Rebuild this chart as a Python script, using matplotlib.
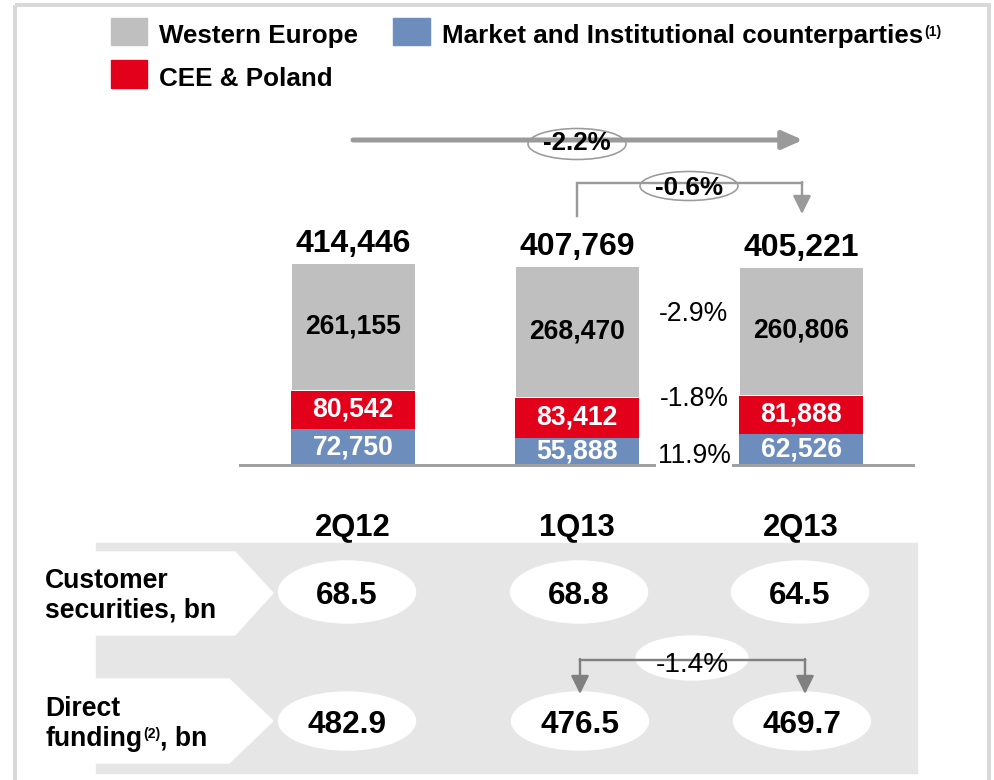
import matplotlib.pyplot as plt
from matplotlib.patches import Rectangle, Ellipse, Polygon
import numpy as np

plt.rcParams['font.family'] = ['Liberation Sans', 'DejaVu Sans']

# data
categories = ['2Q12', '1Q13', '2Q13']
western_europe = [261155, 268470, 260806]
cee_poland = [80542, 83412, 81888]
market_inst = [72750, 55888, 62526]
totals = [414446, 407769, 405221]
segment_change = ['-2.9%', '-1.8%', '11.9%']  # 2Q13 vs 1Q13: WE, CEE, M&I
total_change_yoy = '-2.2%'
total_change_qoq = '-0.6%'
customer_securities = [68.5, 68.8, 64.5]
direct_funding = [482.9, 476.5, 469.7]
funding_change_qoq = '-1.4%'

GREY = '#BFBFBF'
RED = '#E2001A'
BLUE = '#6D8EBC'
LINE = '#9A9A9A'
PANEL = '#E6E6E6'
BORDER = '#D9D9D9'

W, H = 994, 780
fig = plt.figure(figsize=(W / 100, H / 100), dpi=100)


def pt(v):
    # pixels -> points at dpi 100
    return v * 0.72


# ---- stacked bars (baseline at 465px, 500k over 244px)
ax = fig.add_axes([240 / W, (H - 465) / H, 673 / W, 244 / H])
x = np.arange(len(categories))
bw = 0.554
bottom2 = np.array(market_inst)
bottom3 = bottom2 + np.array(cee_poland)
ax.bar(x, market_inst, bw, color=BLUE, linewidth=0)
ax.bar(x, cee_poland, bw, bottom=bottom2, color=RED, linewidth=0)
ax.bar(x, western_europe, bw, bottom=bottom3, color=GREY,
       edgecolor='white', linewidth=pt(1))
ax.set_xlim(-0.5045, 2.5)
ax.set_ylim(0, 500000)
ax.set_xticks([])
ax.set_yticks([])
for s in ['top', 'left', 'right']:
    ax.spines[s].set_visible(False)
ax.spines['bottom'].set_color('#A0A0A0')
ax.spines['bottom'].set_linewidth(pt(3))
ax.patch.set_visible(False)

for i in range(len(categories)):
    ax.text(i, market_inst[i] / 2, f'{market_inst[i]:,}', ha='center',
            va='center', color='white', fontweight='bold', fontsize=pt(26.5))
    ax.text(i, bottom2[i] + cee_poland[i] / 2, f'{cee_poland[i]:,}',
            ha='center', va='center', color='white', fontweight='bold',
            fontsize=pt(26.5))
    ax.text(i, bottom3[i] + western_europe[i] / 2, f'{western_europe[i]:,}',
            ha='center', va='center', color='black', fontweight='bold',
            fontsize=pt(26.5))
    top = bottom3[i] + western_europe[i]
    ax.annotate(f'{totals[i]:,}', (i, top), xytext=(0, pt(11)),
                textcoords='offset points', ha='center', va='baseline',
                fontweight='bold', fontsize=pt(32))
    ax.text(i, -145000, categories[i], ha='center', va='baseline',
            fontweight='bold', fontsize=pt(31), clip_on=False)

# ---- overlay in pixel coordinates
ov = fig.add_axes([0, 0, 1, 1], zorder=5)
ov.set_xlim(0, W)
ov.set_ylim(H, 0)
ov.axis('off')


def txt(xp, yc, s, size, bold=True, ha='center', color='black', **kw):
    # yc = vertical centre of the capitals
    return ov.text(xp, yc + 0.716 * size / 2, s, ha=ha, va='baseline',
                   fontsize=pt(size), fontweight='bold' if bold else 'normal',
                   color=color, **kw)


# border
ov.add_patch(Rectangle((15, 5), 974, 800, fill=False, edgecolor=BORDER,
                       linewidth=pt(4)))

# legend
ov.add_patch(Rectangle((111, 18), 36, 27, color=GREY))
ov.add_patch(Rectangle((393, 18), 37, 27, color=BLUE))
ov.add_patch(Rectangle((111, 60), 36, 28, color=RED))
txt(159, 34, 'Western Europe', 26, ha='left')
t_mkt = txt(442, 34, 'Market and Institutional counterparties', 26, ha='left')
txt(159, 76.5, 'CEE & Poland', 26, ha='left')

# top arrow -2.2%
ov.annotate('', xy=(803, 140), xytext=(353, 140),
            arrowprops=dict(arrowstyle='-|>,head_length=0.95,head_width=0.42',
                            color=LINE, lw=pt(5), shrinkA=0, shrinkB=0,
                            mutation_scale=pt(18)))
ov.add_patch(Ellipse((577, 144), 98, 31, facecolor='white', edgecolor=LINE,
                     linewidth=pt(1.6)))
txt(577, 141, total_change_yoy, 26)

# bracket -0.6%
ov.plot([577, 577, 802], [216, 183, 183], color=LINE, lw=pt(2.4),
        solid_joinstyle='miter')
ov.annotate('', xy=(802, 214), xytext=(802, 182),
            arrowprops=dict(arrowstyle='-|>,head_length=0.85,head_width=0.42',
                            color=LINE, lw=pt(2.4), shrinkA=0, shrinkB=0,
                            mutation_scale=pt(18)))
ov.add_patch(Ellipse((689, 186), 98, 29, facecolor='white', edgecolor=LINE,
                     linewidth=pt(1.6)))
txt(689, 186, total_change_qoq, 26)

# segment changes
for yc, s in zip([312, 397, 454], segment_change):
    txt(694, yc, s, 26.5, bold=False,
        bbox=dict(facecolor='white', edgecolor='none', pad=1))

# ---- bottom panel
ov.add_patch(Rectangle((96, 543), 821, 230, color=PANEL))
ov.add_patch(Polygon([(90, 552), (235, 552), (273, 593), (235, 635), (90, 635)],
                     closed=True, color='white'))
ov.add_patch(Polygon([(90, 679), (229, 679), (273, 721), (229, 763), (90, 763)],
                     closed=True, color='white'))

txt(45, 578.5, 'Customer', 26.5, ha='left')
txt(45, 608, 'securities, bn', 26.5, ha='left')
txt(45, 707, 'Direct', 26.5, ha='left')
t_fund = txt(45, 736.5, 'funding', 26.5, ha='left')

for xc, v in zip([347, 579, 800], customer_securities):
    ov.add_patch(Ellipse((xc, 592), 137, 62, color='white'))
    txt(xc, 593, f'{v:.1f}', 31.5)
for xc, v in zip([347, 580, 802], direct_funding):
    ov.add_patch(Ellipse((xc, 721), 137, 58, color='white'))
    txt(xc, 722, f'{v:.1f}', 31.5)

# bracket -1.4%
ov.plot([580, 805], [660, 660], color='#808080', lw=pt(2.4))
for xa in [580, 805]:
    ov.annotate('', xy=(xa, 694), xytext=(xa, 659),
                arrowprops=dict(arrowstyle='-|>,head_length=0.85,head_width=0.42',
                                color='#808080', lw=pt(2.4), shrinkA=0,
                                shrinkB=0, mutation_scale=pt(18)))
ov.add_patch(Ellipse((692, 658), 112, 44, color='white'))
txt(692, 662, funding_change_qoq, 28, bold=False)

# superscripts placed after the measured text
fig.canvas.draw()
r = fig.canvas.get_renderer()
inv = ov.transData.inverted()

bb = t_mkt.get_window_extent(r)
x1, _ = inv.transform((bb.x1, bb.y0))
ov.text(x1 + 1, 36, '(1)', ha='left', va='baseline', fontsize=pt(14),
        fontweight='bold')

bb = t_fund.get_window_extent(r)
x1, _ = inv.transform((bb.x1, bb.y0))
s2 = ov.text(x1 + 1, 738, '(2)', ha='left', va='baseline', fontsize=pt(14),
             fontweight='bold')
fig.canvas.draw()
bb = s2.get_window_extent(r)
x2, _ = inv.transform((bb.x1, bb.y0))
ov.text(x2, 736.5 + 0.716 * 26.5 / 2, ', bn', ha='left', va='baseline',
        fontsize=pt(26.5), fontweight='bold')

fig.savefig('out.png', dpi=100)
